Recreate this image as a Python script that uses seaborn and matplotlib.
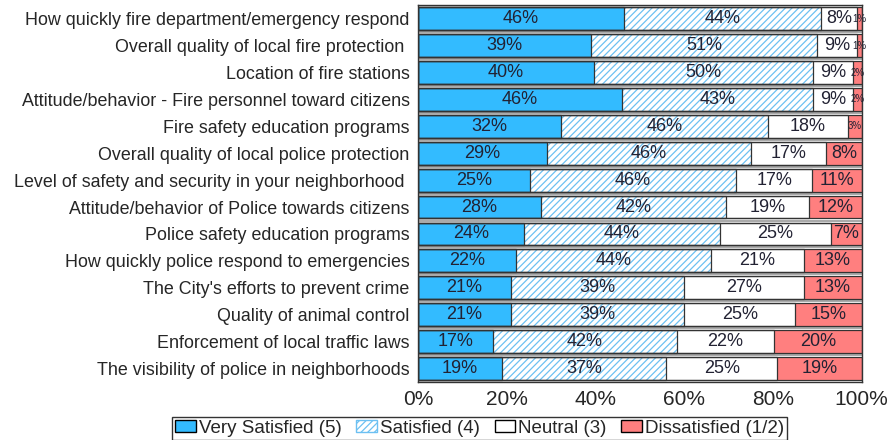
import matplotlib
matplotlib.use('Agg')
import matplotlib.pyplot as plt
from matplotlib.patches import Patch
import seaborn as sns
import numpy as np

items = ['How quickly fire department/emergency respond',
         'Overall quality of local fire protection ',
         'Location of fire stations',
         'Attitude/behavior - Fire personnel toward citizens',
         'Fire safety education programs',
         'Overall quality of local police protection',
         'Level of safety and security in your neighborhood ',
         'Attitude/behavior of Police towards citizens',
         'Police safety education programs',
         'How quickly police respond to emergencies',
         "The City's efforts to prevent crime",
         'Quality of animal control',
         'Enforcement of local traffic laws',
         'The visibility of police in neighborhoods']
very_satisfied = [46, 39, 40, 46, 32, 29, 25, 28, 24, 22, 21, 21, 17, 19]
satisfied = [44, 51, 50, 43, 46, 46, 46, 42, 44, 44, 39, 39, 42, 37]
neutral = [8, 9, 9, 9, 18, 17, 17, 19, 25, 21, 27, 25, 22, 25]
dissatisfied = [1, 1, 2, 2, 3, 8, 11, 12, 7, 13, 13, 15, 20, 19]
legend_labels = ['Very Satisfied (5)', 'Satisfied (4)', 'Neutral (3)', 'Dissatisfied (1/2)']
tick_labels = ['0%', '20%', '40%', '60%', '80%', '100%']

sns.set_style('white')
plt.rcParams['font.family'] = ['Liberation Sans', 'DejaVu Sans']
plt.rcParams['hatch.color'] = '#6cc0f2'
plt.rcParams['hatch.linewidth'] = 0.9

blue = '#33bbff'
red = '#ff7f7f'
hatch_col = '#6cc0f2'

vals = np.array([very_satisfied, satisfied, neutral, dissatisfied], dtype=float)
scale = 100 / vals.sum(axis=0)
widths = vals * scale
cum = np.cumsum(widths, axis=0)

fig, ax = plt.subplots(figsize=(8.93, 4.4), dpi=100)
fig.subplots_adjust(left=0.468, right=0.965, top=0.988, bottom=0.132)

# stacked bars drawn back to front
layers = [(cum[3], red, None), (cum[2], 'white', None), (cum[1], 'white', '/////'), (cum[0], blue, None)]
for c, col, h in layers:
    sns.barplot(x=c, y=items, orient='h', color=col, saturation=1, width=0.85,
                linewidth=0, errorbar=None, ax=ax)
    if h:
        for p in ax.containers[-1]:
            p.set_hatch(h)
            p.set_edgecolor(hatch_col)
            p.set_linewidth(0)

for c in cum[::-1]:
    sns.barplot(x=c, y=items, orient='h', fill=False, color='#333333', width=0.85,
                linewidth=0.9, errorbar=None, ax=ax)

# separators between rows
for i in range(len(items) - 1):
    ax.axhline(i + 0.5, color='#999999', lw=1.2, zorder=0.5)

# value labels
for i in range(len(items)):
    left = 0
    for j in range(4):
        v = int(vals[j, i])
        w = widths[j, i]
        fs = 13 if v >= 5 else 7
        ax.text(left + w / 2, i, f'{v}%', ha='center', va='center', fontsize=fs, color='#222233')
        left += w

ax.set_xlim(0, 100)
ax.set_ylim(len(items) - 0.5, -0.5)
ax.set_xticks([0, 20, 40, 60, 80, 100])
ax.set_xticklabels(tick_labels, fontsize=15)
ax.tick_params(axis='x', length=4, width=1, color='#333333', pad=2)
ax.tick_params(axis='y', length=0, labelsize=12.9, pad=6)
ax.set_xlabel('')
ax.set_ylabel('')
for s in ax.spines.values():
    s.set_visible(True)
    s.set_color('#333333')
    s.set_linewidth(1)

handles = [Patch(facecolor=blue, edgecolor='black'),
           Patch(facecolor='white', edgecolor=hatch_col, hatch='/////'),
           Patch(facecolor='white', edgecolor='black'),
           Patch(facecolor=red, edgecolor='black')]
leg = fig.legend(handles, legend_labels, loc='upper center', bbox_to_anchor=(0.537, 0.052),
                 ncol=4, frameon=True, fancybox=False, edgecolor='black', fontsize=13.5,
                 handlelength=1.1, handleheight=0.6, handletextpad=0.15, columnspacing=0.8,
                 borderpad=0.15, borderaxespad=0)
leg.get_frame().set_linewidth(1)

fig.savefig('out.png', dpi=100)
